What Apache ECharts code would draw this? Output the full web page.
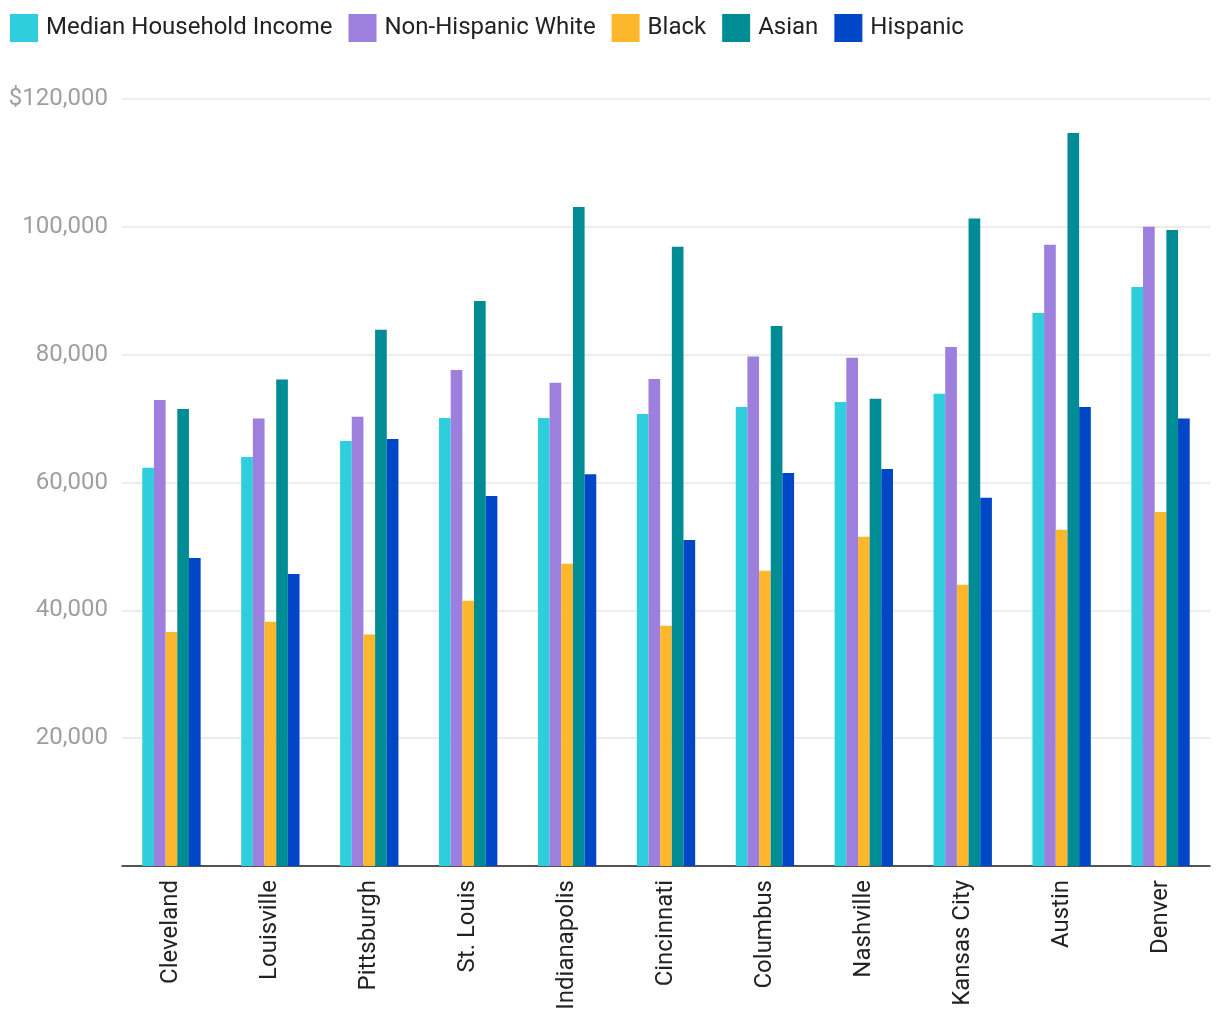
<!DOCTYPE html>
<html>
<head>
<meta charset="utf-8">
<script src="https://cdn.jsdelivr.net/npm/echarts@6/dist/echarts.min.js"></script>
<style>
html,body{margin:0;padding:0;background:#fff;}
#chart{width:1220px;height:1020px;}
</style>
</head>
<body>
<div id="chart"></div>
<script>
const categories = ["Cleveland","Louisville","Pittsburgh","St. Louis","Indianapolis","Cincinnati","Columbus","Nashville","Kansas City","Austin","Denver"];
const seriesNames = ["Median Household Income","Non-Hispanic White","Black","Asian","Hispanic"];
const medianIncome = [62300, 64000, 66500, 70100, 70100, 70700, 71800, 72600, 73900, 86500, 90600];
const nonHispanicWhite = [72900, 70000, 70300, 77600, 75600, 76200, 79700, 79500, 81200, 97200, 100000];
const black = [36600, 38200, 36200, 41500, 47300, 37600, 46200, 51500, 44000, 52600, 55400];
const asian = [71500, 76100, 83900, 88400, 103100, 96900, 84500, 73100, 101300, 114700, 99500];
const hispanic = [48200, 45700, 66800, 57900, 61300, 51000, 61500, 62100, 57600, 71800, 70000];
const colors = ["#2ecedc", "#9d7fdd", "#fdb72d", "#008c94", "#0047c8"];

const dataSets = [medianIncome, nonHispanicWhite, black, asian, hispanic];
const chart = echarts.init(document.getElementById('chart'), null, {renderer:'canvas'});
const FONT = 'Roboto';
chart.setOption({
  animation: false,
  color: colors,
  textStyle: {fontFamily: FONT},
  legend: {
    left: 5, top: 9,
    itemWidth: 28, itemHeight: 28, itemGap: 16,
    icon: 'rect',
    textStyle: {fontSize: 24, color: '#222', fontFamily: FONT, padding: [0,0,0,3]},
    data: seriesNames
  },
  grid: {left: 122, right: 10, top: 99, bottom: 154, containLabel: false},
  xAxis: {
    type: 'category',
    data: categories,
    axisLine: {lineStyle: {color: '#222', width: 1.5}},
    axisTick: {show: false},
    axisLabel: {rotate: 90, fontSize: 24, color: '#222', margin: 14, fontFamily: FONT, interval: 0}
  },
  yAxis: {
    type: 'value',
    min: 0, max: 120000, interval: 20000,
    axisLine: {show: false},
    axisTick: {show: false},
    splitLine: {lineStyle: {color: '#e6e6e6', width: 1.5}},
    axisLabel: {
      fontSize: 24, color: '#9e9e9e', margin: 14, fontFamily: FONT,
      formatter: function(v){
        if (v === 0) return '';
        const s = v.toLocaleString('en-US');
        return v === 120000 ? '$' + s : s;
      }
    }
  },
  series: seriesNames.map((n,i)=>({
    name: n, type: 'bar', data: dataSets[i],
    barGap: '0%', barCategoryGap: '41%'
  }))
});
</script>
</body>
</html>
